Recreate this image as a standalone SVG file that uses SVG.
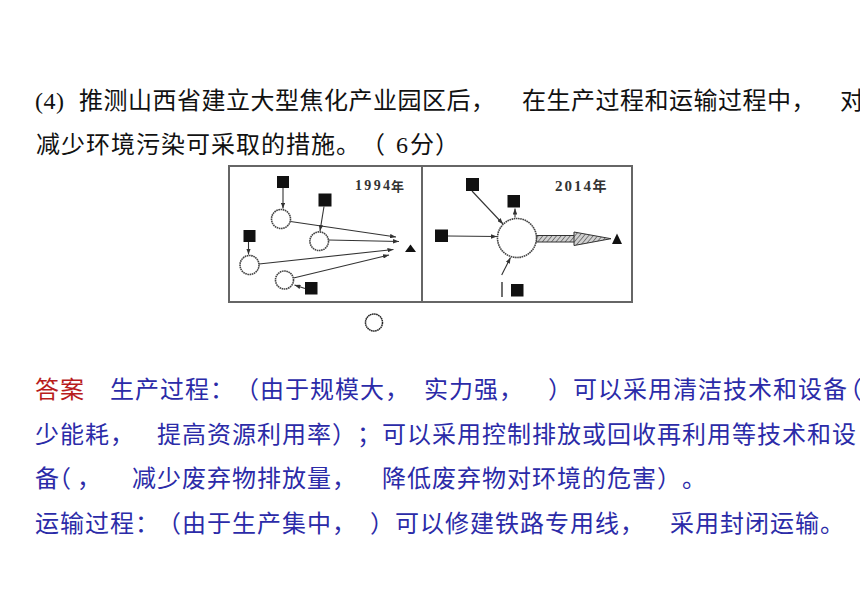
<svg xmlns="http://www.w3.org/2000/svg" width="860" height="609" viewBox="0 0 860 609">
<defs>
<marker id="ah" viewBox="0 0 8 6" refX="8" refY="3" markerWidth="6" markerHeight="4.5" markerUnits="userSpaceOnUse" orient="auto"><path d="M0,0 L8,3 L0,6 Z" fill="#333"/></marker>
<pattern id="hatch" width="3.5" height="3.5" patternUnits="userSpaceOnUse" patternTransform="rotate(40)"><rect width="3.5" height="3.5" fill="#d0d0d0"/><line x1="0" y1="0" x2="0" y2="3.5" stroke="#555" stroke-width="1.4"/></pattern>
</defs>
<style>
text{text-spacing-trim:space-all;font-feature-settings:"halt" 0,"chws" 0}
.q{font-family:"Liberation Serif","Noto Sans CJK SC",serif;font-size:24px;fill:#111;letter-spacing:1px}
.q1{letter-spacing:0.5px}
.a{font-family:"Liberation Serif","Noto Sans CJK SC",serif;font-size:24px;fill:#2b2ba8;letter-spacing:1px}
.r{fill:#b81c1c}
.sq{fill:#111}
.ci{fill:#fff;stroke:#444;stroke-width:1.6;stroke-dasharray:1.6 0.6}
.ln{stroke:#333;stroke-width:1.1;fill:none}
.arr{marker-end:url(#ah)}
.yr{font-family:"Liberation Serif",serif;font-weight:bold;fill:#333}
.yc{font-family:"Noto Sans CJK SC",sans-serif;fill:#333;font-weight:bold}
.fr{fill:none;stroke:#666;stroke-width:2}
</style>
<rect width="860" height="609" fill="#fff"/>

<g id="question">
<text class="q q1" x="35" y="109">(4)</text>
<text class="q q1" x="79" y="109">推测山西省建立大型焦化产业园区后，</text>
<text class="q q1" x="522" y="109">在生产过程和运输过程中，</text>
<text class="q q1" x="840" y="109">对</text>
<text class="q" y="152.5"><tspan x="36">减少环境污染可采取的措施。</tspan><tspan x="361">（</tspan><tspan x="396">6</tspan><tspan x="410">分）</tspan></text>
</g>

<g id="figure-frame">
<rect class="fr" x="229" y="166" width="403" height="136"/>
<line class="fr" x1="422" y1="166" x2="422" y2="302"/>
</g>

<g id="connectors">
<path class="ln arr" d="M283,188 L283,208.5"/>
<path class="ln arr" d="M324,206.5 L320,231"/>
<path class="ln arr" d="M248.5,242 L248.5,254.5"/>
<path class="ln arr" d="M305,288.5 L294.5,285"/>
<path class="ln arr" d="M290.5,221.5 L396,237"/>
<path class="ln arr" d="M328.5,240 L399,241.5"/>
<path class="ln arr" d="M259,264 L393.5,249.5"/>
<path class="ln arr" d="M293.5,278 L389,255"/>
<path class="ln arr" d="M472,191 L503,224"/>
<path class="ln arr" d="M515,217.5 L515,208.5"/>
<path class="ln arr" d="M448,236 L497,236.5"/>
<path class="ln arr" d="M501.7,275 L510.5,257.5"/>
<path class="ln" d="M502,282 L502,297" style="stroke-width:1.4"/>
<g id="thick-arrow">
<rect x="536.5" y="235.5" width="40" height="6.5" fill="url(#hatch)" stroke="#333" stroke-width="1"/>
<polygon points="574,232 611,238.7 574,245.5" fill="url(#hatch)" stroke="#333" stroke-width="1"/>
</g>
</g>

<g id="panel-1994">
<g id="sq1"><rect class="sq" x="277" y="176" width="12" height="12"/></g>
<g id="ci1"><circle class="ci" cx="281" cy="219" r="9.5"/></g>
<g id="sq2"><rect class="sq" x="318.5" y="193.5" width="13" height="13"/></g>
<g id="ci2"><circle class="ci" cx="319.2" cy="241.2" r="9.3"/></g>
<g id="sq3"><rect class="sq" x="243.5" y="230" width="12" height="12"/></g>
<g id="ci3"><circle class="ci" cx="249.5" cy="265" r="9.5"/></g>
<g id="ci4"><circle class="ci" cx="284.5" cy="280" r="9"/></g>
<g id="sq4"><rect class="sq" x="305" y="282" width="12.5" height="12.5"/></g>
<g id="tri1"><polygon class="sq" points="410.5,244.5 405,252 416,252"/></g>
<g id="label-1994"><text class="yr" x="355" y="190" font-size="14" textLength="35">1994</text><text class="yc" x="391" y="191" font-size="13">年</text></g>
</g>

<g id="panel-2014">
<g id="sqA"><rect class="sq" x="466" y="178" width="13" height="13"/></g>
<g id="sqB"><rect class="sq" x="507.5" y="195" width="12.5" height="12.5"/></g>
<g id="sqC"><rect class="sq" x="435" y="229.5" width="13" height="12.5"/></g>
<g id="ciBig"><circle class="ci" cx="517" cy="238" r="19.5"/></g>
<g id="sqD"><rect class="sq" x="511" y="284" width="12.5" height="12.5"/></g>
<g id="tri2"><polygon class="sq" points="617,233.5 612,244 622,244"/></g>
<g id="label-2014"><text class="yr" x="555" y="190.5" font-size="15" textLength="36">2014</text><text class="yc" x="592.5" y="191" font-size="14">年</text></g>
</g>

<g id="legend-circle"><circle cx="374" cy="322.5" r="8.5" fill="none" stroke="#222" stroke-width="1.5" stroke-dasharray="1.6 0.5"/></g>

<g id="answer">
<text class="a r" x="35" y="397.5">答案</text>
<text class="a" y="397.5"><tspan x="110">生产过程：</tspan><tspan x="235">（由于规模大，</tspan></text>
<text class="a" x="424" y="397.5">实力强，</text>
<text class="a" y="397.5"><tspan x="548">）可以采用清洁技术和设备</tspan><tspan x="838">（</tspan></text>
<text class="a" x="35" y="443">少能耗，</text>
<text class="a" y="443"><tspan x="157">提高资源利用率）</tspan><tspan x="357">；可以采用控制排放或回收再利用等技术和设</tspan></text>
<text class="a" y="487"><tspan x="35">备</tspan><tspan x="47">（</tspan><tspan x="77">，</tspan></text>
<text class="a" x="132" y="487">减少废弃物排放量，</text>
<text class="a" y="487"><tspan x="382">降低废弃物对环境的危害）</tspan><tspan x="682">。</tspan></text>
<text class="a" y="532"><tspan x="35">运输过程：</tspan><tspan x="157">（由于生产集中，</tspan></text>
<text class="a" x="370" y="532">）可以修建铁路专用线，</text>
<text class="a" x="670" y="532">采用封闭运输。</text>
</g>
</svg>
